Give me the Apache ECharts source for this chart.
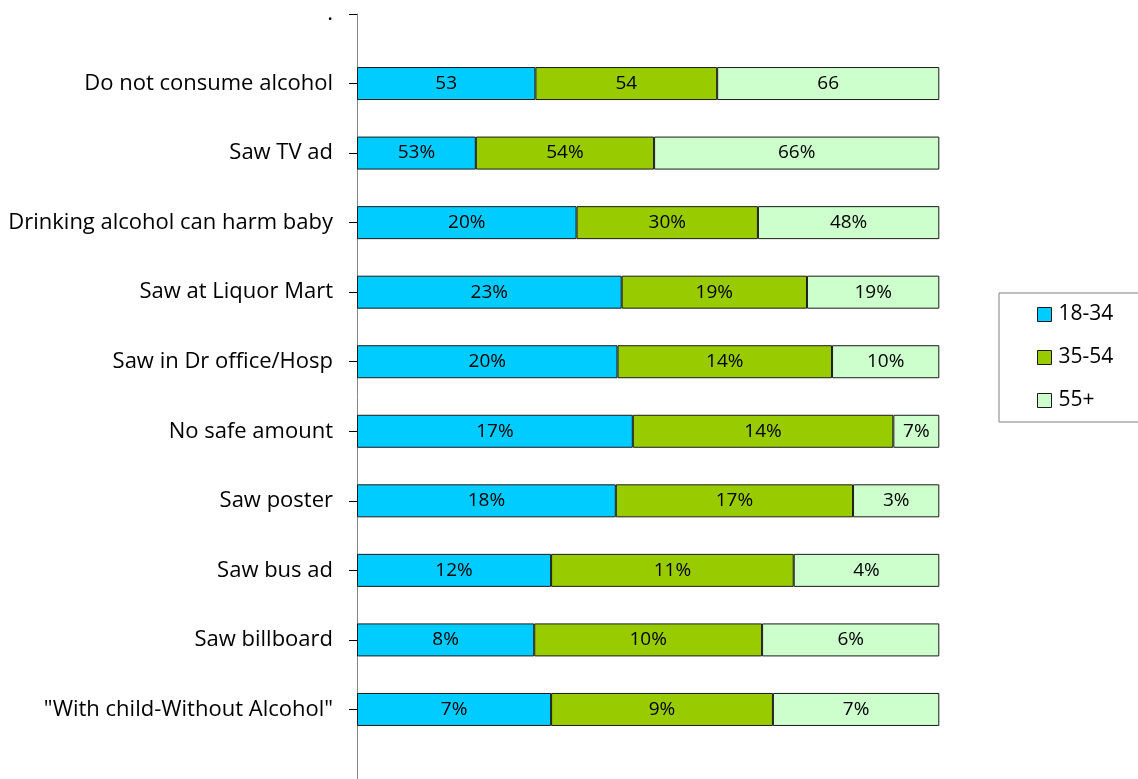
<!DOCTYPE html>
<html>
<head>
<meta charset="utf-8">
<script src="https://cdn.jsdelivr.net/npm/echarts@6/dist/echarts.min.js"></script>
<style>html,body{margin:0;padding:0;background:#fff}#c{width:1138px;height:779px}</style>
</head>
<body>
<div id="c"></div>
<script>
const categories = [".", "Do not consume alcohol", "Saw TV ad", "Drinking alcohol can harm baby", "Saw at Liquor Mart", "Saw in Dr office/Hosp", "No safe amount", "Saw poster", "Saw bus ad", "Saw billboard", "\"With child-Without Alcohol\"", ""];
const seriesNames = ["18-34", "35-54", "55+"];
// bar segment values
const bar1834 = [53, 20, 23, 20, 17, 18, 12, 8, 7, 7];
const bar3554 = [54, 30, 19, 14, 14, 17, 11, 10, 9, 8];
const bar55 = [66, 48, 19, 10, 7, 3, 4, 6, 7, 6];
// printed labels
const lbl1834 = ["53", "53%", "20%", "23%", "20%", "17%", "18%", "12%", "8%", "7%"];
const lbl3554 = ["54", "54%", "30%", "19%", "14%", "14%", "17%", "11%", "10%", "9%"];
const lbl55 = ["66", "66%", "48%", "19%", "10%", "7%", "3%", "4%", "6%", "7%"];
const colors = ["#00CCFF", "#99CC00", "#CCFFCC"];

const FONT = "Open Sans";
const raw = [bar1834, bar3554, bar55];
const lbls = [lbl1834, lbl3554, lbl55];
const totals = bar1834.map((v, i) => bar1834[i] + bar3554[i] + bar55[i]);

const series = raw.map((arr, s) => ({
  name: seriesNames[s],
  type: 'bar',
  stack: 'all',
  barWidth: 33,
  data: ['-'].concat(arr.map((v, i) => v / totals[i] * 100)).concat(['-']),
  itemStyle: { color: colors[s], borderColor: '#1a1a1a', borderWidth: 1 },
  label: {
    show: true, position: 'inside', color: '#000', fontFamily: FONT, fontSize: 19,
    formatter: p => lbls[s][p.dataIndex - 1]
  },
  emphasis: { disabled: true },
  animation: false
}));

const chart = echarts.init(document.getElementById('c'), null, { renderer: 'canvas' });
chart.setOption({
  animation: false,
  grid: { left: 357, right: 198.7, top: 14, bottom: -2, containLabel: false },
  xAxis: { type: 'value', min: 0, max: 100, show: false },
  yAxis: {
    type: 'category', data: categories, inverse: true, boundaryGap: false,
    axisLine: { show: true, lineStyle: { color: '#868686', width: 1 } },
    axisTick: { show: true, length: 8, lineStyle: { color: '#000' } },
    axisLabel: { color: '#000', fontFamily: FONT, fontSize: 22, margin: 24 },
    splitLine: { show: false }
  },
  legend: {
    orient: 'vertical', left: 999, top: 293,
    data: seriesNames,
    icon: 'rect', itemWidth: 14, itemHeight: 14, itemGap: 22,
    padding: [11, 40, 11, 38],
    borderColor: '#808080', borderWidth: 1,
    itemStyle: { borderColor: '#1a1a1a', borderWidth: 1 },
    textStyle: { color: '#000', fontFamily: FONT, fontSize: 21, lineHeight: 21, padding: [0, 0, 0, 2] }
  },
  series: series
});
</script>
</body>
</html>
